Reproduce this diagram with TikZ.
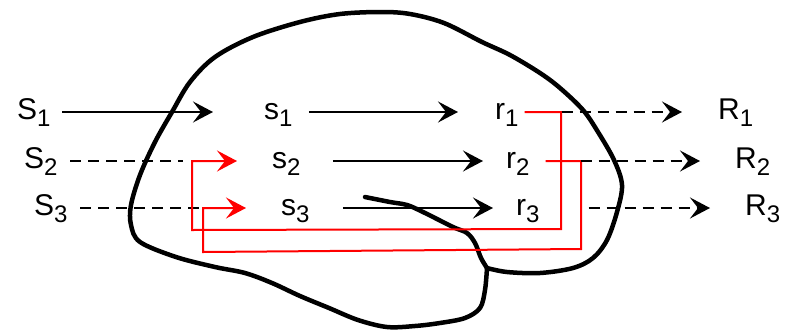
\documentclass[tikz,border=0pt]{standalone}
\usepackage{fontspec}
\setmainfont{Liberation Sans}
\usetikzlibrary{arrows.meta}
% lowered, smaller index after a letter
\newcommand\lsub[1]{\raisebox{-7pt}{\fontsize{24}{24}\selectfont #1}}
\begin{document}
\begin{tikzpicture}[x=1pt,y=-1pt,
  lbl/.style={anchor=west, inner sep=0pt, font=\fontsize{30}{30}\selectfont,
              text height=22pt, text depth=8pt},
  tip/.style={-{Stealth[length=20pt,width=21pt,inset=8pt]}},
  arr/.style={tip, line width=2pt},
  dsh/.style={line width=2pt, dash pattern=on 11pt off 7pt},
  fb/.style={tip, red, line width=2pt, line join=miter},
  brain/.style={line width=4.5pt, line join=round, line cap=round}]
\useasboundingbox (0,0) rectangle (787,330);

% brain outline
\draw[brain] plot[smooth, tension=0.55] coordinates {
  (487,268) (507,272) (540,273) (573,268) (593,258) (607,240) (617,212)
  (622,185) (614,160) (598,132) (583,110) (560,88) (540,73) (510,55)
  (482,42) (444,23) (410,14) (381,12) (340,14) (300,22) (253,37) (215,57)
  (190,82) (172,112) (155,142) (140,175) (131,205) (131,225) (140,242)
  (176,257) (215,267) (245,273) (272,283) (300,296) (329,308) (358,320)
  (387,327) (415,326) (440,323) (465,318) (480,308) (485,290) (487,268)};
% temporal lobe fold
\draw[brain] plot[smooth, tension=0.55] coordinates {
  (487,268) (481,258) (475,243) (467,233) (453,227) (423,212) (407,205)
  (390,202) (365,197)};

% labels
\node[lbl] (S1) at (17,112)  {S\lsub{1}};
\node[lbl] (S2) at (24,161)  {S\lsub{2}};
\node[lbl] (S3) at (34,208)  {S\lsub{3}};
\node[lbl] (s1) at (264,112) {s\lsub{1}};
\node[lbl] (s2) at (272,161) {s\lsub{2}};
\node[lbl] (s3) at (281,208) {s\lsub{3}};
\node[lbl] (r1) at (495,112) {r\lsub{1}};
\node[lbl] (r2) at (506,161) {r\lsub{2}};
\node[lbl] (r3) at (516,208) {r\lsub{3}};
\node[lbl] (R1) at (718,112) {R\lsub{1}};
\node[lbl] (R2) at (735,161) {R\lsub{2}};
\node[lbl] (R3) at (745,208) {R\lsub{3}};

% stimuli into the brain
\draw[arr] ([xshift=11.5pt]S1.east) -- ([xshift=-51pt]s1.west);
\draw[dsh] ([xshift=12.5pt]S2.east) -- ([xshift=-89pt]s2.west);
\draw[dsh] ([xshift=12.5pt]S3.east) -- ([xshift=-74pt]s3.west);

% internal mappings
\draw[arr] ([xshift=16pt]s1.east) -- ([xshift=-37pt]r1.west);
\draw[arr] ([xshift=32pt]s2.east) -- ([xshift=-23pt]r2.west);
\draw[arr] ([xshift=33pt]s3.east) -- ([xshift=-23pt]r3.west);

% feedback loops
\draw[fb] ([xshift=6pt]r1.east) -| (561,229) -- (192,230) |- ([xshift=-35pt]s2.west);
\draw[fb] ([xshift=16pt]r2.east) -| (581,249) -- (203,252) |- ([xshift=-35pt]s3.west);

% responses
\draw[dsh,tip] ([xshift=43pt]r1.east) -- ([xshift=-36pt]R1.west);
\draw[dsh,tip] ([xshift=51pt]r2.east) -- ([xshift=-35pt]R2.west);
\draw[dsh,tip] ([xshift=49pt]r3.east) -- ([xshift=-35pt]R3.west);
\end{tikzpicture}
\end{document}
